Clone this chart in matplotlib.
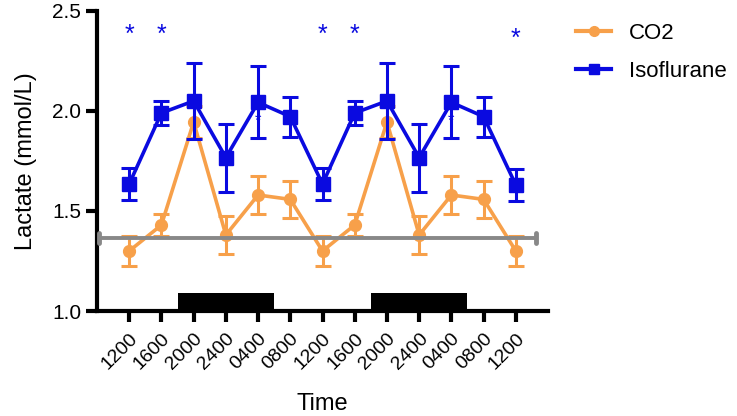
import matplotlib
matplotlib.use("Agg")
import matplotlib.pyplot as plt
from matplotlib.lines import Line2D
import numpy as np

plt.rcParams['font.family'] = ['Liberation Sans', 'DejaVu Sans']

time_labels = ["1200", "1600", "2000", "2400", "0400", "0800", "1200",
               "1600", "2000", "2400", "0400", "0800", "1200"]
co2_mean = [1.30, 1.43, 1.945, 1.38, 1.58, 1.558, 1.30, 1.43, 1.945, 1.38, 1.58, 1.558, 1.30]
co2_sem = [0.075, 0.055, 0.08, 0.095, 0.093, 0.094, 0.075, 0.055, 0.08, 0.095, 0.093, 0.094, 0.075]
iso_mean = [1.635, 1.99, 2.05, 1.767, 2.043, 1.972, 1.635, 1.99, 2.05, 1.767, 2.043, 1.972, 1.63]
iso_sem = [0.078, 0.06, 0.19, 0.17, 0.18, 0.10, 0.078, 0.06, 0.19, 0.17, 0.18, 0.10, 0.078]
star_idx = [0, 1, 6, 7, 12]
star_y = [2.38, 2.38, 2.38, 2.38, 2.36]
small_star_idx = [4, 10]
small_star_y = [1.95, 1.95]
baseline = 1.363
baseline_span = [-0.93, 12.63]
dark_periods = [(1.5, 4.5), (7.5, 10.5)]
dark_height = 0.09

orange = '#F7A04A'
blue = '#0A0AE0'
grey = '#888888'

fig = plt.figure(figsize=(7.37, 4.16), dpi=100)
ax = fig.add_axes([0.1316, 0.2524, 0.612, 0.7212])
x = np.arange(len(time_labels))

for (a, b) in dark_periods:
    ax.bar((a + b) / 2, dark_height, width=b - a, bottom=1.0, color='black',
           zorder=1, clip_on=False)

ax.errorbar(x, co2_mean, yerr=co2_sem, color=orange, lw=2.6, marker='o',
            markersize=8.5, capsize=5.5, capthick=2.2, elinewidth=2.2, zorder=3)

ax.plot(baseline_span, [baseline, baseline], color=grey, lw=2.8, zorder=4,
        solid_capstyle='butt')
for bx in baseline_span:
    ax.plot([bx, bx], [baseline - 0.025, baseline + 0.025], color=grey, lw=3.5,
            zorder=4, solid_capstyle='round')

ax.errorbar(x, iso_mean, yerr=iso_sem, color=blue, lw=2.6, marker='s',
            markersize=9.5, capsize=5.5, capthick=2.2, elinewidth=2.2, zorder=5)

for i, yv in zip(star_idx, star_y):
    ax.text(x[i], yv, '*', color=blue, fontsize=18, ha='center', va='center', zorder=6)
for i, yv in zip(small_star_idx, small_star_y):
    ax.text(x[i], yv, '*', color=blue, fontsize=12, ha='center', va='center', zorder=6)

ax.set_xlim(-1, 13)
ax.set_ylim(1.0, 2.5)
ax.set_yticks([1.0, 1.5, 2.0, 2.5])
ax.set_yticklabels(['1.0', '1.5', '2.0', '2.5'], fontsize=15)
ax.set_xticks(x)
ax.set_xticklabels(time_labels, rotation=45, ha='right', rotation_mode='anchor',
                   fontsize=14)
for s in ['top', 'right']:
    ax.spines[s].set_visible(False)
for s in ['left', 'bottom']:
    ax.spines[s].set_linewidth(3)
ax.tick_params(axis='both', width=3, length=8, direction='out')
ax.tick_params(axis='x', pad=6)

ax.set_ylabel('Lactate (mmol/L)', fontsize=17, labelpad=11)
ax.set_xlabel('Time', fontsize=17, labelpad=14)

handles = [Line2D([], [], color=orange, lw=3, marker='o', markersize=7),
           Line2D([], [], color=blue, lw=3, marker='s', markersize=7)]
fig.legend(handles, ['CO2', 'Isoflurane'], loc='upper left',
           bbox_to_anchor=(0.782, 0.945), frameon=False, fontsize=16,
           handlelength=1.55, handletextpad=0.8, labelspacing=0.75,
           borderaxespad=0, borderpad=0)

fig.savefig('out.png', dpi=100)
